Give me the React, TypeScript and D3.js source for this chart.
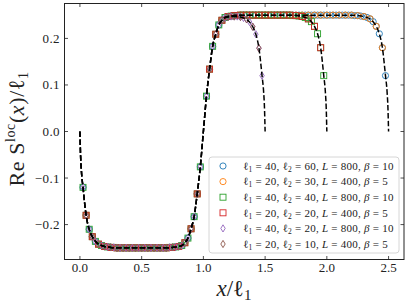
import React from "react";
import * as d3 from "d3";

// tick values
const xTicks = [0, 0.5, 1.0, 1.5, 2.0, 2.5];
const yTicks = [-0.2, -0.1, 0.0, 0.1, 0.2];

// legend parameters
const ell1s = [40, 20, 40, 20, 40, 20];
const ell2s = [60, 30, 40, 20, 20, 10];
const sizes = [800, 400, 800, 400, 800, 400];
const betas = [10, 5, 10, 5, 10, 5];

// numerical data: value at site j = 1, 2, ... (x = j / l1); null = no point
const blueVals = [
  -0.12, -0.18, -0.21, -0.226, -0.236, -0.242, -0.245, -0.247, -0.248, -0.249,
  -0.249, -0.25, -0.25, -0.25, -0.25, -0.25, -0.25, -0.25, -0.25, -0.25,
  -0.25, -0.25, -0.25, -0.25, -0.25, -0.25, -0.25, -0.25, -0.249, -0.249,
  -0.248, -0.247, -0.245, -0.239, -0.229, -0.209, -0.183, -0.134, -0.076, null,
  0.076, 0.134, 0.183, 0.209, 0.229, 0.239, 0.245, 0.247, 0.248, 0.249,
  0.249, 0.25, 0.25, 0.25, 0.25, 0.25, 0.25, 0.25, 0.25, 0.25,
  0.25, 0.25, 0.25, 0.25, 0.25, 0.25, 0.25, 0.25, 0.25, 0.25,
  0.25, 0.25, 0.25, 0.25, 0.25, 0.25, 0.25, 0.25, 0.25, 0.25,
  0.25, 0.25, 0.25, 0.25, 0.25, 0.25, 0.25, 0.25, 0.249, 0.249,
  0.248, 0.247, 0.245, 0.242, 0.236, 0.226, 0.21, 0.18, 0.12,
];
const orangeVals = [
  -0.18, -0.226, -0.242, -0.247, -0.249, -0.25, -0.25, -0.25, -0.25, -0.25,
  -0.25, -0.25, -0.25, -0.25, -0.249, -0.247, -0.239, -0.209, -0.134, null,
  0.134, 0.209, 0.239, 0.247, 0.249, 0.25, 0.25, 0.25, 0.25, 0.25,
  0.25, 0.25, 0.25, 0.25, 0.25, 0.25, 0.25, 0.25, 0.25, 0.25,
  0.25, 0.25, 0.25, 0.25, 0.249, 0.247, 0.242, 0.226, 0.18,
];
const greenVals = [
  -0.12, -0.18, -0.21, -0.226, -0.236, -0.242, -0.245, -0.247, -0.248, -0.249,
  -0.249, -0.25, -0.25, -0.25, -0.25, -0.25, -0.25, -0.25, -0.25, -0.25,
  -0.25, -0.25, -0.25, -0.25, -0.25, -0.25, -0.25, -0.25, -0.249, -0.249,
  -0.248, -0.247, -0.245, -0.239, -0.229, -0.209, -0.183, -0.134, -0.076, null,
  0.076, 0.134, 0.183, 0.209, 0.229, 0.239, 0.245, 0.247, 0.248, 0.249,
  0.249, 0.25, 0.25, 0.25, 0.25, 0.25, 0.25, 0.25, 0.25, 0.25,
  0.25, 0.25, 0.25, 0.25, 0.25, 0.25, 0.25, 0.25, 0.249, 0.249,
  0.248, 0.247, 0.245, 0.242, 0.236, 0.226, 0.21, 0.18, 0.12,
];
const redVals = [
  -0.18, -0.226, -0.242, -0.247, -0.249, -0.25, -0.25, -0.25, -0.25, -0.25,
  -0.25, -0.25, -0.25, -0.25, -0.249, -0.247, -0.239, -0.209, -0.134, null,
  0.134, 0.209, 0.239, 0.247, 0.249, 0.25, 0.25, 0.25, 0.25, 0.25,
  0.25, 0.25, 0.25, 0.25, 0.249, 0.247, 0.242, 0.226, 0.18,
];
const purpleVals = [
  -0.12, -0.18, -0.21, -0.226, -0.236, -0.242, -0.245, -0.247, -0.248, -0.249,
  -0.249, -0.25, -0.25, -0.25, -0.25, -0.25, -0.25, -0.25, -0.25, -0.25,
  -0.25, -0.25, -0.25, -0.25, -0.25, -0.25, -0.25, -0.25, -0.249, -0.249,
  -0.248, -0.247, -0.245, -0.239, -0.229, -0.209, -0.183, -0.134, -0.076, null,
  0.076, 0.134, 0.183, 0.209, 0.229, 0.239, 0.244, 0.246, 0.247, 0.247,
  0.247, 0.246, 0.244, 0.241, 0.235, 0.225, 0.209, 0.179, 0.12,
];
const brownVals = [
  -0.18, -0.226, -0.242, -0.247, -0.249, -0.25, -0.25, -0.25, -0.25, -0.25,
  -0.25, -0.25, -0.25, -0.25, -0.249, -0.247, -0.239, -0.209, -0.134, null,
  0.134, 0.209, 0.239, 0.246, 0.247, 0.246, 0.241, 0.225, 0.179,
];

// analytic curves (dashed), [x / l1, value]
const theory15: [number, number][] = [
  [0, 0], [0.005, -0.05], [0.012, -0.085], [0.025, -0.12], [0.05, -0.18],
  [0.075, -0.21], [0.1, -0.226], [0.125, -0.236], [0.15, -0.242], [0.175, -0.245],
  [0.2, -0.247], [0.25, -0.249], [0.3, -0.25], [0.7, -0.25], [0.75, -0.249],
  [0.8, -0.247], [0.825, -0.245], [0.85, -0.239], [0.875, -0.229], [0.9, -0.209],
  [0.925, -0.183], [0.95, -0.134], [0.975, -0.076], [1.0, 0], [1.025, 0.076],
  [1.05, 0.134], [1.075, 0.183], [1.1, 0.209], [1.125, 0.229], [1.15, 0.239],
  [1.175, 0.244], [1.2, 0.246], [1.25, 0.247], [1.3, 0.246], [1.325, 0.244],
  [1.35, 0.241], [1.375, 0.235], [1.4, 0.225], [1.425, 0.209], [1.45, 0.179],
  [1.475, 0.12], [1.488, 0.085], [1.495, 0.05], [1.5, 0],
];
const theory20: [number, number][] = [
  [0, 0], [0.005, -0.05], [0.012, -0.085], [0.025, -0.12], [0.05, -0.18],
  [0.075, -0.21], [0.1, -0.226], [0.125, -0.236], [0.15, -0.242], [0.175, -0.245],
  [0.2, -0.247], [0.25, -0.249], [0.3, -0.25], [0.7, -0.25], [0.75, -0.249],
  [0.8, -0.247], [0.825, -0.245], [0.85, -0.239], [0.875, -0.229], [0.9, -0.209],
  [0.925, -0.183], [0.95, -0.134], [0.975, -0.076], [1.0, 0], [1.025, 0.076],
  [1.05, 0.134], [1.075, 0.183], [1.1, 0.209], [1.125, 0.229], [1.15, 0.239],
  [1.175, 0.245], [1.2, 0.247], [1.25, 0.249], [1.3, 0.25], [1.7, 0.25],
  [1.75, 0.249], [1.8, 0.247], [1.825, 0.245], [1.85, 0.242], [1.875, 0.236],
  [1.9, 0.226], [1.925, 0.21], [1.95, 0.18], [1.975, 0.12], [1.988, 0.085],
  [1.995, 0.05], [2.0, 0],
];
const theory25: [number, number][] = [
  [0, 0], [0.005, -0.05], [0.012, -0.085], [0.025, -0.12], [0.05, -0.18],
  [0.075, -0.21], [0.1, -0.226], [0.125, -0.236], [0.15, -0.242], [0.175, -0.245],
  [0.2, -0.247], [0.25, -0.249], [0.3, -0.25], [0.7, -0.25], [0.75, -0.249],
  [0.8, -0.247], [0.825, -0.245], [0.85, -0.239], [0.875, -0.229], [0.9, -0.209],
  [0.925, -0.183], [0.95, -0.134], [0.975, -0.076], [1.0, 0], [1.025, 0.076],
  [1.05, 0.134], [1.075, 0.183], [1.1, 0.209], [1.125, 0.229], [1.15, 0.239],
  [1.175, 0.245], [1.2, 0.247], [1.25, 0.249], [1.3, 0.25], [2.2, 0.25],
  [2.25, 0.249], [2.3, 0.247], [2.325, 0.245], [2.35, 0.242], [2.375, 0.236],
  [2.4, 0.226], [2.425, 0.21], [2.45, 0.18], [2.475, 0.12], [2.488, 0.085],
  [2.495, 0.05], [2.5, 0],
];

const colors = ["#1f77b4", "#ff7f0e", "#2ca02c", "#d62728", "#9467bd", "#8c564b"];
const shapes = ["o", "o", "s", "s", "d", "d"];
const seriesVals = [blueVals, orangeVals, greenVals, redVals, purpleVals, brownVals];

const W = 407;
const H = 305;
const left = 64.5, right = 404, top = 3.5, bottom = 259.5;
const FONT = "'Liberation Serif', 'DejaVu Serif', serif";

function Marker({ shape, cx, cy, color }: { shape: string; cx: number; cy: number; color: string }) {
  if (shape === "o")
    return <circle cx={cx} cy={cy} r={3.1} fill="none" stroke={color} strokeWidth={0.9} />;
  if (shape === "s")
    return <rect x={cx - 3} y={cy - 3} width={6} height={6} fill="none" stroke={color} strokeWidth={0.9} />;
  const d = `M${cx},${cy - 3.6}L${cx + 2.2},${cy}L${cx},${cy + 3.6}L${cx - 2.2},${cy}Z`;
  return <path d={d} fill="none" stroke={color} strokeWidth={0.9} />;
}

export default function App() {
  const x = d3.scaleLinear().domain([-0.125, 2.625]).range([left, right]);
  const y = d3.scaleLinear().domain([-0.275, 0.275]).range([bottom, top]);
  const line = d3
    .line<[number, number]>()
    .x((d) => x(d[0]))
    .y((d) => y(d[1]))
    .curve(d3.curveMonotoneX);

  const fmt = (v: number) => d3.format(".1f")(v).replace("-", "\u2212");

  const legX = 209, legY = 157, legW = 190, legH = 96;
  const rowY = (i: number) => 166 + i * 15.6;

  return (
    <svg width={W} height={H} style={{ position: "absolute", left: 0, top: 0 }} fontFamily={FONT}>
      <rect width={W} height={H} fill="white" />
      <defs>
        <clipPath id="plot">
          <rect x={left} y={top} width={right - left} height={bottom - top} />
        </clipPath>
      </defs>

      <g clipPath="url(#plot)">
        {seriesVals.map((vals, k) =>
          vals.map((v, j) =>
            v === null ? null : (
              <Marker
                key={`${k}-${j}`}
                shape={shapes[k]}
                cx={x((j + 1) / ell1s[k])}
                cy={y(v)}
                color={colors[k]}
              />
            )
          )
        )}
        {[theory15, theory20, theory25].map((t, i) => (
          <path key={i} d={line(t) || ""} fill="none" stroke="black" strokeWidth={1.5} strokeDasharray="5.5,2.4" />
        ))}
      </g>

      {/* frame */}
      <rect x={left} y={top} width={right - left} height={bottom - top} fill="none" stroke="#222" strokeWidth={1} />

      {/* x ticks */}
      {xTicks.map((t) => (
        <g key={t}>
          <line x1={x(t)} x2={x(t)} y1={bottom} y2={bottom - 3.5} stroke="#222" strokeWidth={0.8} />
          <line x1={x(t)} x2={x(t)} y1={top} y2={top + 3.5} stroke="#222" strokeWidth={0.8} />
          <text x={x(t)} y={272} fontSize={13} textAnchor="middle" fill="#222">
            {fmt(t)}
          </text>
        </g>
      ))}
      {/* y ticks */}
      {yTicks.map((t) => (
        <g key={t}>
          <line x1={left} x2={left + 3.5} y1={y(t)} y2={y(t)} stroke="#222" strokeWidth={0.8} />
          <line x1={right} x2={right - 3.5} y1={y(t)} y2={y(t)} stroke="#222" strokeWidth={0.8} />
          <text x={60} y={y(t) + 4.5} fontSize={13} textAnchor="end" fill="#222" letterSpacing={0.4}>
            {fmt(t)}
          </text>
        </g>
      ))}

      {/* axis labels */}
      <text x={234} y={296} fontSize={23} textAnchor="middle" fill="#222">
        <tspan fontStyle="italic">x</tspan>
        <tspan>/ℓ</tspan>
        <tspan fontSize={15} dy={4}>1</tspan>
      </text>
      <text transform="translate(24,129) rotate(-90)" fontSize={22} textAnchor="middle" fill="#222" letterSpacing={0.6}>
        <tspan>Re S</tspan>
        <tspan fontSize={14} dy={-9}>loc</tspan>
        <tspan dy={9}>(</tspan>
        <tspan fontStyle="italic">x</tspan>
        <tspan>)/ℓ</tspan>
        <tspan fontSize={14} dy={4}>1</tspan>
      </text>

      {/* legend */}
      <rect x={legX} y={legY} width={legW} height={legH} rx={3} fill="white" fillOpacity={0.8} stroke="#cccccc" strokeWidth={0.8} />
      {ell1s.map((l1, i) => (
        <g key={i}>
          <Marker shape={shapes[i]} cx={223} cy={rowY(i)} color={colors[i]} />
          <text x={243} y={rowY(i) + 3.8} fontSize={11} fill="#222" letterSpacing={0.25}>
            <tspan>ℓ</tspan>
            <tspan fontSize={7.5} dy={2}>1</tspan>
            <tspan dy={-2}>{` = ${l1}, ℓ`}</tspan>
            <tspan fontSize={7.5} dy={2}>2</tspan>
            <tspan dy={-2}>{` = ${ell2s[i]}, `}</tspan>
            <tspan fontStyle="italic">L</tspan>
            <tspan>{` = ${sizes[i]}, `}</tspan>
            <tspan fontStyle="italic">β</tspan>
            <tspan>{` = ${betas[i]}`}</tspan>
          </text>
        </g>
      ))}
    </svg>
  );
}
